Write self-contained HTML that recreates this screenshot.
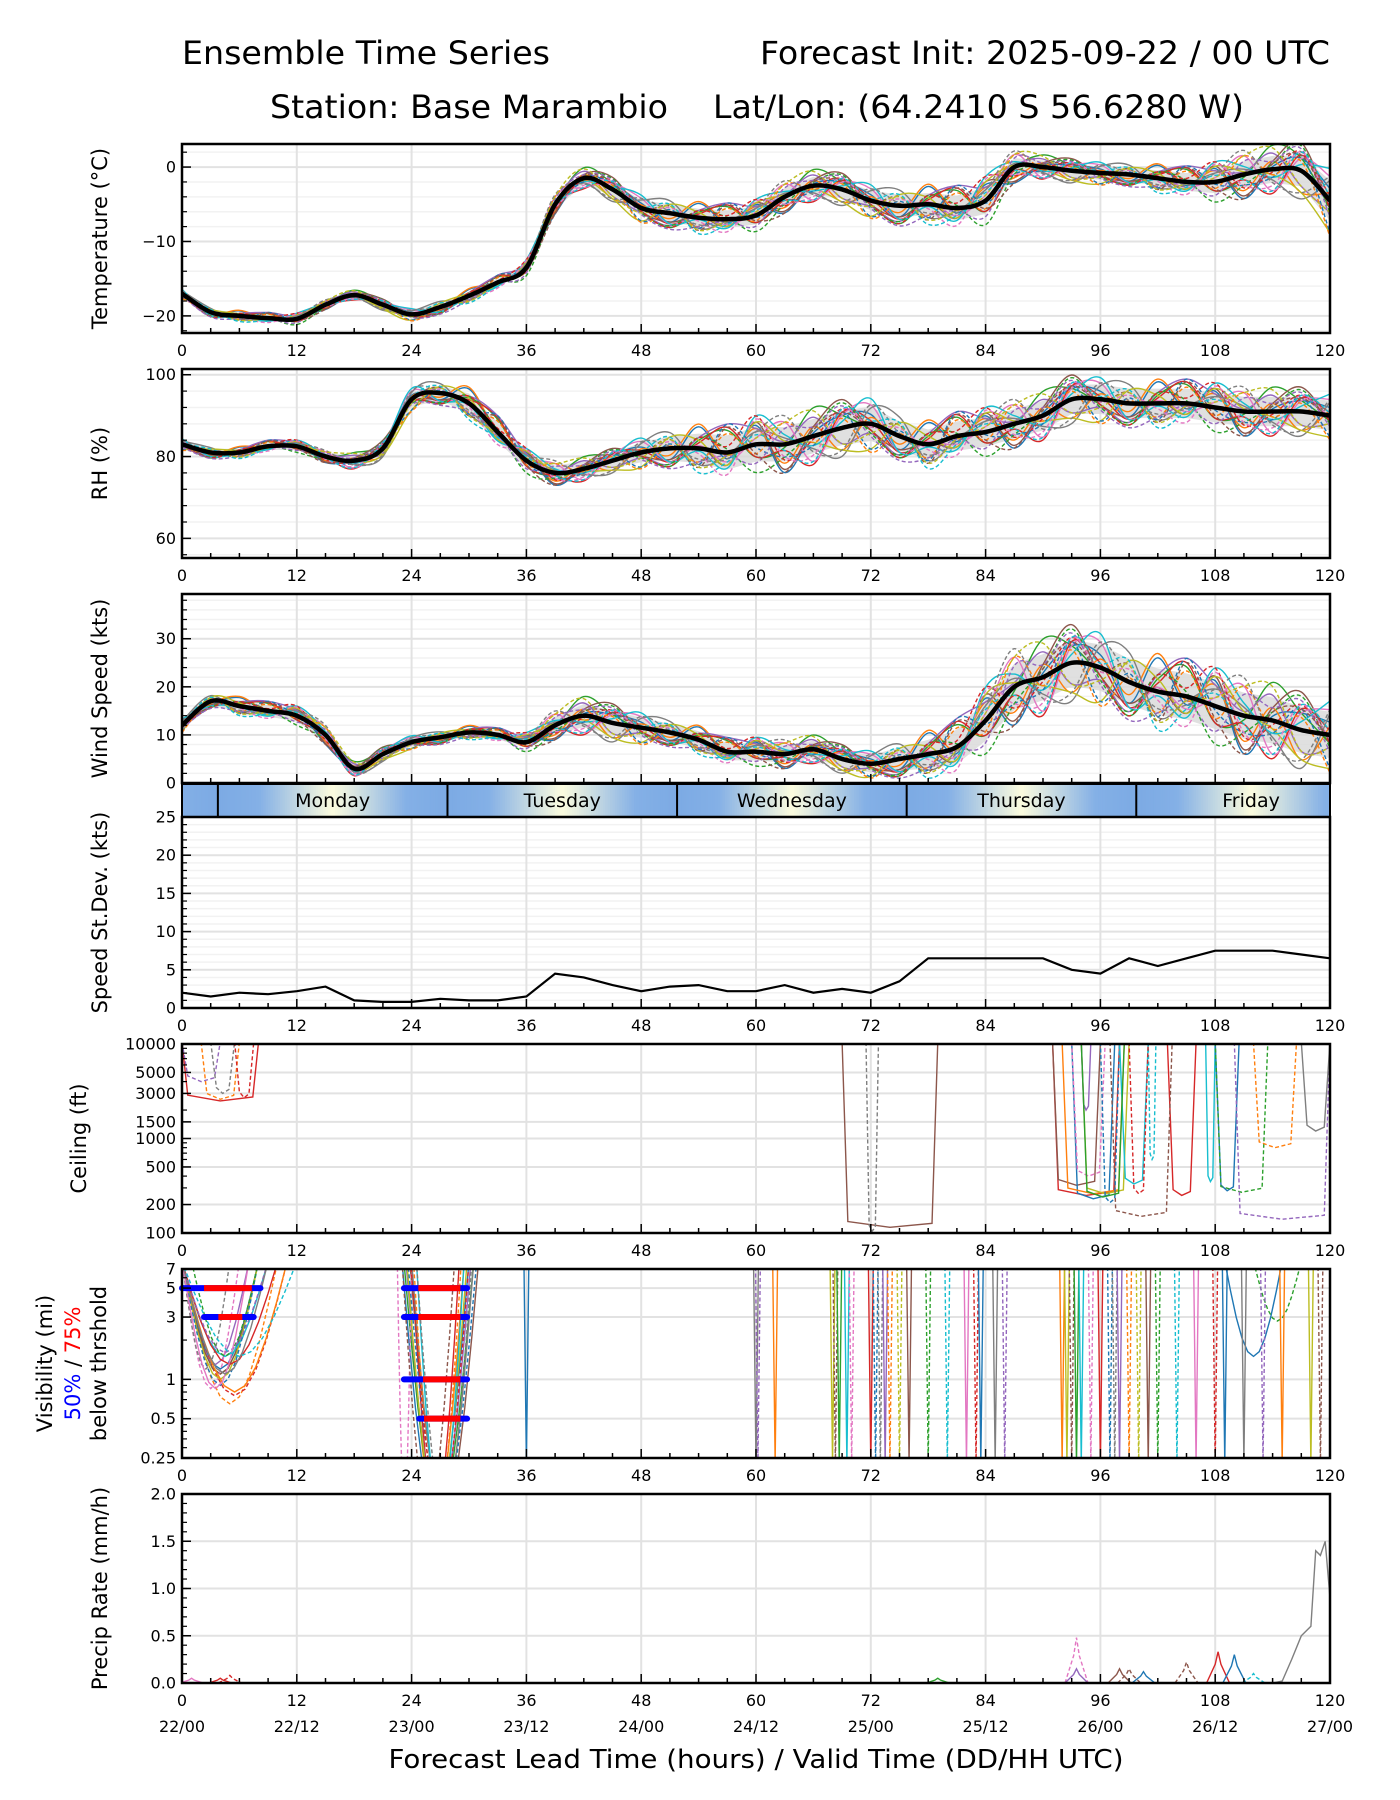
<!DOCTYPE html>
<html><head><meta charset="utf-8"><style>
html,body{margin:0;padding:0;background:#fff}
svg{display:block;font-family:"DejaVu Sans","Liberation Sans",sans-serif}
</style></head><body>
<svg id="chart" width="1400" height="1800" viewBox="0 0 1400 1800">
<defs id="defs"></defs>
<text x="182" y="64" font-size="32" textLength="368" lengthAdjust="spacingAndGlyphs">Ensemble Time Series</text>
<text x="760" y="64" font-size="32" textLength="570" lengthAdjust="spacingAndGlyphs">Forecast Init: 2025-09-22 / 00 UTC</text>
<text x="270" y="118" font-size="32" textLength="398" lengthAdjust="spacingAndGlyphs">Station: Base Marambio</text>
<text x="713" y="118" font-size="32" textLength="531" lengthAdjust="spacingAndGlyphs">Lat/Lon: (64.2410 S 56.6280 W)</text>
<g id="plots"></g>
<text x="756" y="1768" font-size="26" text-anchor="middle" textLength="735" lengthAdjust="spacingAndGlyphs">Forecast Lead Time (hours) / Valid Time (DD/HH UTC)</text>
</svg>
<script>
// ---- data ----
const hours = [0,3,6,9,12,15,18,21,24,27,30,33,36,39,42,45,48,51,54,57,60,63,66,69,72,75,78,81,84,87,90,93,96,99,102,105,108,111,114,117,120];
const tempMean = [-17,-19.5,-20,-20.3,-20.4,-18.5,-17.2,-18.5,-19.8,-18.8,-17.3,-15.5,-13.5,-5,-1.5,-3,-5.5,-6.2,-6.8,-7,-6.5,-4,-2.5,-3,-4.5,-5.2,-5,-5.5,-4.5,0,0,-0.5,-0.8,-1,-1.5,-2,-2,-1,-0.3,-0.5,-4.5];
const tempSpread = [0.6,0.6,0.7,0.7,0.7,0.6,0.6,0.7,0.8,0.9,0.9,0.9,1,1.2,1.3,1.5,1.8,2,2,2,2,2,2,2,2.2,2.5,2.5,2.8,3,2,1.5,1.5,1.5,1.5,1.8,2,2.5,3,3,3.5,4.5];
const rhMean = [83,81,81,82.5,82.5,80,79,82,94,95.5,93,86,79,76,77,79,81,82,82,81,83,83,85,87,88,85,83,85,86,88,90,94,94,93,93,93,92,91,91,91,90];
const rhSpread = [1.5,1.5,1.5,1.5,1.5,1.5,2,2,3,3,4,4,3,3,3,3,4,5,6,7,7,7,7,7,7,6,6,6,6,6,6,6,6,6,6,6,6,6,6,6,6];
const windMean = [12,17,16,15,14,10,3,6,8.5,9.5,10.5,10,8.5,12,14,12.5,11.5,10.5,9,6.5,6.5,6,7,5,4,5,6,7.5,13,20,22,25,24,21,19,18,16,14,13,11,10];
const windSpread = [1.5,1.5,2,2,2,2,1.5,1.5,1.5,1.5,1.5,1.5,2,3,4,4,3.5,3,3,3,3,3,3,3,3,4,5,6,7,8,8,8,8,8,8,8,8,8,8,8,8];
const sdMean = [2,1.5,2,1.8,2.2,2.8,1,0.8,0.8,1.2,1,1,1.5,4.5,4,3,2.2,2.8,3,2.2,2.2,3,2,2.5,2,3.5,6.5,6.5,6.5,6.5,6.5,5,4.5,6.5,5.5,6.5,7.5,7.5,7.5,7,6.5];
const memberPatterns = [
 [0.3,-0.5,0.8,-0.2,0.6,-0.9,0.1,0.4],[-0.7,0.2,-0.3,0.9,-0.1,0.5,-0.6,0.3],
 [0.9,0.4,-0.2,-0.8,0.3,0.7,-0.4,-0.1],[-0.2,-0.9,0.5,0.1,-0.6,0.2,0.8,-0.4],
 [0.5,0.1,0.6,-0.5,-0.3,-0.7,0.4,0.9],[-0.4,0.7,-0.8,0.3,0.9,-0.2,-0.5,0.1],
 [0.1,-0.3,0.2,0.7,-0.8,0.4,0.6,-0.6],[0.7,-0.6,-0.1,0.4,0.2,-0.4,-0.9,0.5],
 [-0.8,0.5,0.3,-0.4,0.7,0.1,-0.2,-0.7],[0.2,0.8,-0.6,-0.1,-0.5,0.9,0.3,-0.3]];
const dayNames = ["Monday","Tuesday","Wednesday","Thursday","Friday"];
const dayStart = [3.75,27.75,51.75,75.75,99.75];
const ceilTicks = [100,200,500,1000,1500,3000,5000,10000];
const ceilEvents = [[3,0,8,2500],[11,2,6,2600],[14,0,4,4000],[17,3,5.5,3000],[13,5.5,7.5,2700],
 [5,69,79,115],[17,71.5,72.8,105],[3,91,98,250],[5,91,96,320],[0,93,97.5,230],[1,92,98.5,260],[8,94,99,260],[16,93,96.5,400],
 [4,94,95,2000],[19,101,101.8,600],[3,103,106,250],[9,107,108,350],[0,108,110.5,280],[15,97,103.5,150],[12,108,113.5,270],
 [14,110,120,140],[11,112,116.5,800],[7,117,120,1200],[10,96,98,210],[9,98,101,330],[2,94,98.5,240],[13,99,101,260]];
const visTicks = [0.25,0.5,1,3,5,7];
const visEvents = [[0,0,8,1.2],[11,0,10,0.65],[2,0,8,1.1],[13,0,11,0.75],[4,0,7,1.3],[5,0,8,1.1],[16,0,6,0.85],[17,0,5,1.2],[8,0,8,1.0],[9,0,9,1.5],
 [10,0,8,0.9],[1,0,11,0.8],[12,1,8,1.5],[3,0,10,1.3],[14,0,9,1.6],[6,0,7,0.85],[7,0,9,1.1],[19,0,12,1.5],
 [0,23,30,0.1],[1,23.5,29.5,0.1],[2,23.2,30.5,0.1],[3,24,29,0.1],[4,23.4,30.2,0.1],[5,23.8,31,0.1],[16,22.5,24,0.1],[7,24,30.5,0.1],
 [8,23.5,29.8,0.1],[9,24.5,29.5,0.1],[10,23.6,30.8,0.1],[11,24.2,29.2,0.1],[13,23.9,30,0.1],[15,23,28.5,0.1],[17,24.5,30.3,0.1],[0,109,115,1.5],[12,112,117,2.8]];
const visSpikeHours = [36,60,60.2,62,68,68.3,68.7,69.5,70,72,72.5,73,73.5,74,75,76,78,80,82,83,83.5,85,86,92,92.5,93,93.5,94,95,96,97,97.5,98,99,100,101,102,104,106,108,109,111,113,115,118,119];
const visBars = [[5,0,2.3,7.3,8.2],[3,2.3,3.8,6.3,7.5],[5,23.2,24.7,29.1,29.8],[3,23.2,24.7,29.1,29.8],[1,23.2,25.2,29.1,29.8],[0.5,24.8,25.3,29.1,29.8]];
const precipPeaks = [[16,93.5,0.48],[4,93.5,0.15],[15,105,0.22],[3,108.3,0.33],[0,110,0.3],[19,112,0.1],[5,98,0.15],[15,99,0.15],[2,79,0.05],[0,100.5,0.12],[6,1,0.05],[13,5,0.08],[3,4,0.05]];
const precipTailHours = [114,115,116,117,118,118.5,119,119.5,120];
const precipTailVals = [0,0.02,0.25,0.5,0.6,1.4,1.35,1.5,0.9];

// ---- helpers ----
const NS="http://www.w3.org/2000/svg";
const root=document.getElementById('plots');
const defs=document.getElementById('defs');
const X0=182,X1=1330;
const colors=["#1f77b4","#ff7f0e","#2ca02c","#d62728","#9467bd","#8c564b","#e377c2","#7f7f7f","#bcbd22","#17becf"];
function xs(h){return X0+h/120*(X1-X0);}
function mk(tag,attrs,parent){const e=document.createElementNS(NS,tag);for(const k in attrs)e.setAttribute(k,attrs[k]);(parent||root).appendChild(e);return e;}
function linY(top,bot,lo,hi){return v=>bot-(v-lo)/(hi-lo)*(bot-top);}
function logY(top,bot,lo,hi){return v=>bot-(Math.log(v)-Math.log(lo))/(Math.log(hi)-Math.log(lo))*(bot-top);}
function pathFrom(hs,vs,ys){return hs.map((h,i)=>(i?'L':'M')+xs(h).toFixed(1)+' '+ys(vs[i]).toFixed(1)).join(' ');}
function smoothFrom(hs,vs,ys){
  const P=hs.map((h,i)=>[xs(h),ys(vs[i])]);let d='M'+P[0][0].toFixed(1)+' '+P[0][1].toFixed(1);
  for(let i=0;i<P.length-1;i++){const p0=P[Math.max(0,i-1)],p1=P[i],p2=P[i+1],p3=P[Math.min(P.length-1,i+2)];
    const c1=[p1[0]+(p2[0]-p0[0])/6,p1[1]+(p2[1]-p0[1])/6],c2=[p2[0]-(p3[0]-p1[0])/6,p2[1]-(p3[1]-p1[1])/6];
    d+=' C'+c1[0].toFixed(1)+' '+c1[1].toFixed(1)+' '+c2[0].toFixed(1)+' '+c2[1].toFixed(1)+' '+p2[0].toFixed(1)+' '+p2[1].toFixed(1);}
  return d;}

function frame(name,top,bot,ys,majors,minors){
  const g=mk('g',{});
  
  
  minors.forEach(v=>{mk('line',{x1:X0,x2:X1,y1:ys(v),y2:ys(v),stroke:'#f2f2f2','stroke-width':1.5},g);});
  majors.forEach(v=>{mk('line',{x1:X0,x2:X1,y1:ys(v),y2:ys(v),stroke:'#e2e2e2','stroke-width':2},g);});
  for(let h=12;h<120;h+=12){mk('line',{x1:xs(h),x2:xs(h),y1:top,y2:bot,stroke:'#e2e2e2','stroke-width':2},g);}
}
function axes(name,top,bot,ys,majors,minors,labels,xlab){
  const g=mk('g',{});
  
  
  mk('rect',{x:X0,y:top,width:X1-X0,height:bot-top,fill:'none',stroke:'#000','stroke-width':2.5},g);
  for(let h=0;h<=120;h+=3){const len=h%12===0?9:5;mk('line',{x1:xs(h),x2:xs(h),y1:bot,y2:bot-len,stroke:'#000','stroke-width':1.5},g);}
  minors.forEach(v=>mk('line',{x1:X0,x2:X0+5,y1:ys(v),y2:ys(v),stroke:'#000','stroke-width':1.2},g));
  majors.forEach((v,i)=>{mk('line',{x1:X0,x2:X0+9,y1:ys(v),y2:ys(v),stroke:'#000','stroke-width':1.5},g);
    const t=mk('text',{x:X0-6,y:ys(v)+5.5,'font-size':16,'text-anchor':'end'},g);t.textContent=labels[i];
    
    });
  if(xlab){for(let h=0;h<=120;h+=12){const t=mk('text',{x:xs(h),y:bot+23,'font-size':16,'text-anchor':'middle'},g);t.textContent=h;
    
    }}
}
function ylabel(name,text,cx,top,bot,size){
  const t=mk('text',{transform:`translate(${cx},${(top+bot)/2}) rotate(-90)`,'text-anchor':'middle','font-size':size||21});
  t.textContent=text;
  
  
  return t;
}
function clip(id,top,bot){const c=mk('clipPath',{id:id},defs);mk('rect',{x:X0,y:top,width:X1-X0,height:bot-top},c);return 'url(#'+id+')';}

function ensemble(name,top,bot,ys,mean,spread,scale,lo,hi,band){
  const g=mk('g',{'clip-path':clip(name+'-clip',top,bot)});
  
  
  if(band){const up=mean.map((m,i)=>Math.min(hi,m+spread[i]*0.6)),dn=mean.map((m,i)=>Math.max(lo,m-spread[i]*0.6));
    const d=pathFrom(hours,up,ys)+' '+hours.slice().reverse().map((h,i)=>'L'+xs(h).toFixed(1)+' '+ys(dn[dn.length-1-i]).toFixed(1)).join(' ')+'Z';
    const b=mk('path',{d:d,fill:'#d8d8d8',opacity:0.8},g);
    
    }
  for(let m=0;m<20;m++){
    const pat=memberPatterns[m%10],sg=m<10?1:-1;
    const vals=mean.map((v,i)=>Math.max(lo,Math.min(hi,v+sg*scale*spread[i]*pat[(i+m)%8])));
    const p=mk('path',{d:smoothFrom(hours,vals,ys),fill:'none',stroke:colors[m%10],'stroke-width':1.4,'stroke-dasharray':m>=10?'4 2.5':'none'},g);
    
    
  }
  const p=mk('path',{d:smoothFrom(hours,mean,ys),fill:'none',stroke:'#000','stroke-width':4.5,'stroke-linejoin':'round'},g);
  
  
}
function range(a,b,s){const r=[];for(let v=a;v<=b+1e-9;v+=s)r.push(+v.toFixed(4));return r;}

// ---- Temperature ----
(function(){const top=144,bot=333,ys=linY(top,bot,-22.3,3.1);
 const maj=[0,-10,-20],mn=range(-22,2,2).filter(v=>v%10!==0);
 frame('temperature',top,bot,ys,maj,mn);
 ensemble('temperature',top,bot,ys,tempMean,tempSpread,1.2,-30,10,true);
 axes('temperature',top,bot,ys,maj,mn,['0','\u221210','\u221220'],true);
 ylabel('temperature','Temperature (\u00b0C)',107,top,bot);})();
// ---- RH ----
(function(){const top=369,bot=558,ys=linY(top,bot,55.2,101.4);
 const maj=[60,80,100],mn=range(56,100,4).filter(v=>v%20!==0);
 frame('rh',top,bot,ys,maj,mn);
 ensemble('rh',top,bot,ys,rhMean,rhSpread,1.1,55,100,true);
 axes('rh',top,bot,ys,maj,mn,['60','80','100'],true);
 ylabel('rh','RH (%)',107,top,bot);})();
// ---- Wind ----
(function(){const top=594,bot=783,ys=linY(top,bot,0,39.3);
 const maj=[0,10,20,30],mn=range(2,38,2).filter(v=>v%10!==0);
 frame('wind',top,bot,ys,maj,mn);
 ensemble('wind',top,bot,ys,windMean,windSpread,1.1,0,45,true);
 axes('wind',top,bot,ys,maj,mn,['0','10','20','30'],false);
 ylabel('wind','Wind Speed (kts)',107,top,bot);})();
// ---- Day bar ----
(function(){const top=784,bot=817;
 const g=mk('g',{});
 
 
 const stops=[[0,[124,170,228]],[0.18,[132,176,230]],[0.5,[252,252,222]],[0.82,[132,176,230]],[1,[124,170,228]]];
 function col(p){for(let k=0;k<stops.length-1;k++){const a=stops[k],b=stops[k+1];if(p<=b[0]){const t=(p-a[0])/(b[0]-a[0]);
   return 'rgb('+a[1].map((c,j)=>Math.round(c+(b[1][j]-c)*t)).join(',')+')';}}return 'rgb(124,170,228)';}
 const step=0.25;
 for(let h=0;h<120;h+=step){const ph=h+step/2-dayStart[0];const p=(((ph%24)+24)%24)/24;
   mk('rect',{x:xs(h).toFixed(2),y:top,width:(xs(step)-X0+0.6).toFixed(2),height:bot-top,fill:col(p)},g);}
 dayStart.forEach((h,i)=>{mk('line',{x1:xs(h),x2:xs(h),y1:top,y2:bot,stroke:'#000','stroke-width':2});
  const t=mk('text',{x:xs(h+12),y:top+23,'font-size':19,'text-anchor':'middle'});t.textContent=dayNames[i];
  
  });
 mk('rect',{x:X0,y:top,width:X1-X0,height:bot-top,fill:'none',stroke:'#000','stroke-width':2});})();
// ---- Stdev ----
(function(){const top=817,bot=1008,ys=linY(top,bot,0,25);
 const maj=[0,5,10,15,20,25],mn=range(1,24,1).filter(v=>v%5!==0);
 frame('stdev',top,bot,ys,maj,mn);
 const p=mk('path',{d:pathFrom(hours,sdMean,ys),fill:'none',stroke:'#000','stroke-width':2.2});
 
 
 axes('stdev',top,bot,ys,maj,mn,maj.map(String),true);
 ylabel('stdev','Speed St.Dev. (kts)',107,top,bot);})();
// ---- Ceiling ----
(function(){const top=1044,bot=1233,ys=logY(top,bot,100,10000);
 const mn=[300,400,600,700,800,900,2000,4000,6000,7000,8000,9000];
 frame('ceiling',top,bot,ys,ceilTicks,[]);
 const g=mk('g',{'clip-path':clip('ceil-clip',top,bot)});
 
 
 ceilEvents.forEach(e=>{const [m,s,en,mnv]=e;const w=Math.min(0.6,(en-s)/4);
  const d='M'+xs(s)+' '+(top-2)+' L'+xs(s+w)+' '+ys(mnv*1.15)+' L'+xs((s+en)/2)+' '+ys(mnv)+' L'+xs(en-w)+' '+ys(mnv*1.1)+' L'+xs(en)+' '+(top-2);
  const p=mk('path',{d:d,fill:'none',stroke:colors[m%10],'stroke-width':1.4,'stroke-dasharray':m>=10?'4 2.5':'none'},g);
  
  });
 axes('ceiling',top,bot,ys,ceilTicks,mn,ceilTicks.map(String),true);
 ylabel('ceiling','Ceiling (ft)',86,top,bot);})();
// ---- Visibility ----
(function(){const top=1269,bot=1458,ys=logY(top,bot,0.25,7);
 const mn=[0.3,0.35,0.4,0.45,0.6,0.7,0.8,0.9,2,4,6];
 frame('visibility',top,bot,ys,visTicks,[]);
 const g=mk('g',{'clip-path':clip('vis-clip',top,bot)});
 
 
 visEvents.forEach(e=>{const [m,s,en,mnv]=e;const n=10;let d='';
  for(let k=0;k<=n;k++){const t=k/n;const v=Math.exp(Math.log(8)-(Math.log(8)-Math.log(mnv))*Math.sin(Math.PI*t));d+=(k?'L':'M')+xs(s+(en-s)*t).toFixed(1)+' '+ys(v).toFixed(1);}
  const p=mk('path',{d:d,fill:'none',stroke:colors[m%10],'stroke-width':1.4,'stroke-dasharray':m>=10?'4 2.5':'none'},g);
  
  });
 visSpikeHours.forEach((h,i)=>{const m=(i*7)%20;
  const d='M'+xs(h-0.25)+' '+(top-2)+' L'+xs(h)+' '+(bot+5)+' L'+xs(h+0.25)+' '+(top-2);
  const p=mk('path',{d:d,fill:'none',stroke:colors[m%10],'stroke-width':1.4,'stroke-dasharray':m>=10?'4 2.5':'none'},g);
  
  });
 visBars.forEach(b=>{const [v,b0,r0,r1,b1]=b;const y=ys(v);
  const bl=mk('line',{x1:xs(b0),x2:xs(b1),y1:y,y2:y,stroke:'#0000ff','stroke-width':6,'stroke-linecap':'round'});
  
  
  const rl=mk('line',{x1:xs(r0),x2:xs(r1),y1:y,y2:y,stroke:'#ff0000','stroke-width':6});
  
  });
 axes('visibility',top,bot,ys,visTicks,mn,visTicks.map(String),true);
 ylabel('visibility','Visibility (mi)',52,top,bot);
 const t=ylabel('visibility-pct','',80,top,bot);
 const a=mk('tspan',{fill:'#0000ff'},t);a.textContent='50%';
 const b=mk('tspan',{fill:'#000'},t);b.textContent=' / ';
 const c=mk('tspan',{fill:'#ff0000'},t);c.textContent='75%';
 ylabel('visibility-below','below thrshold',106,top,bot);})();
// ---- Precip ----
(function(){const top=1494,bot=1683,ys=linY(top,bot,0,2);
 const maj=[0,0.5,1,1.5,2];
 frame('precip',top,bot,ys,maj,[]);
 const g=mk('g',{'clip-path':clip('pr-clip',top-2,bot)});
 
 
 precipPeaks.forEach(e=>{const [m,h,v]=e;
  const d='M'+xs(h-1.2)+' '+ys(0)+' L'+xs(h-0.3)+' '+ys(v*0.6)+' L'+xs(h)+' '+ys(v)+' L'+xs(h+0.3)+' '+ys(v*0.6)+' L'+xs(h+1.2)+' '+ys(0);
  const p=mk('path',{d:d,fill:'none',stroke:colors[m%10],'stroke-width':1.4,'stroke-dasharray':m>=10?'4 2.5':'none'},g);
  
  });
 const p=mk('path',{d:pathFrom(precipTailHours,precipTailVals,ys),fill:'none',stroke:colors[7],'stroke-width':1.4},g);
 
 
 axes('precip',top,bot,ys,maj,range(0.1,1.9,0.1),['0.0','0.5','1.0','1.5','2.0'],true);
 for(let h=0;h<=120;h+=12){const d=['22/00','22/12','23/00','23/12','24/00','24/12','25/00','25/12','26/00','26/12','27/00'][h/12];
  const t=mk('text',{x:xs(h),y:bot+49,'font-size':16,'text-anchor':'middle'});t.textContent=d;
  
  }
 ylabel('precip','Precip Rate (mm/h)',107,top,bot);})();
</script>
</body></html>
